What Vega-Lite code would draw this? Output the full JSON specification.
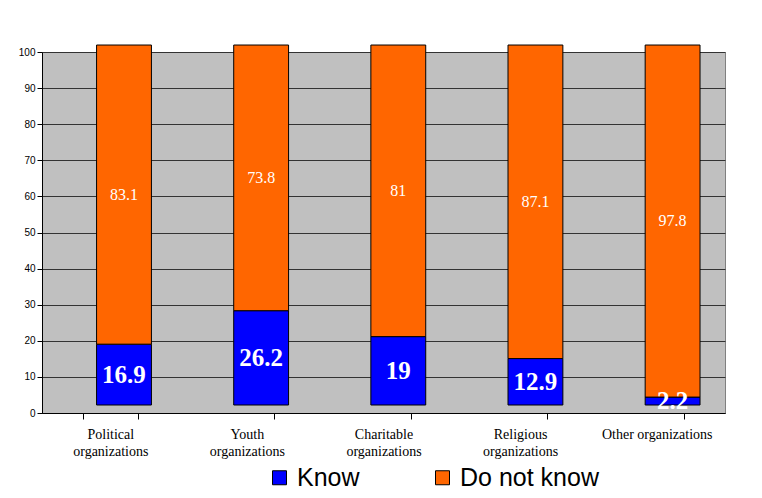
{
  "$schema": "https://vega.github.io/schema/vega-lite/v6.json",
  "width": 683,
  "height": 361,
  "autosize": {"type": "none"},
  "padding": {"left": 42, "top": 52, "right": 37, "bottom": 85},
  "background": "white",
  "config": {
    "view": {"fill": "#C0C0C0", "stroke": "#808080", "strokeWidth": 1},
    "font": "Liberation Sans"
  },
  "data": {
    "values": [
      {"org": "Political|organizations", "series": "Know", "value": 16.9, "ord": 1},
      {"org": "Political|organizations", "series": "Do not know", "value": 83.1, "ord": 2},
      {"org": "Youth|organizations", "series": "Know", "value": 26.2, "ord": 1},
      {"org": "Youth|organizations", "series": "Do not know", "value": 73.8, "ord": 2},
      {"org": "Charitable|organizations", "series": "Know", "value": 19, "ord": 1},
      {"org": "Charitable|organizations", "series": "Do not know", "value": 81, "ord": 2},
      {"org": "Religious|organizations", "series": "Know", "value": 12.9, "ord": 1},
      {"org": "Religious|organizations", "series": "Do not know", "value": 87.1, "ord": 2},
      {"org": "Other organizations", "series": "Know", "value": 2.2, "ord": 1},
      {"org": "Other organizations", "series": "Do not know", "value": 97.8, "ord": 2}
    ]
  },
  "layer": [
    {
      "mark": {"type": "bar", "opacity": 0},
      "encoding": {
        "x": {
          "field": "org",
          "type": "nominal",
          "sort": null,
          "scale": {"paddingInner": 0.6, "paddingOuter": 0.3},
          "axis": {
            "title": null,
            "labelAngle": 0,
            "labelExpr": "datum.value ? split(datum.value, '|') : ''",
            "labelFont": "Liberation Serif",
            "labelFontSize": 14,
            "labelColor": "#000000",
            "labelLineHeight": 17,
            "labelPadding": 8,
            "tickBand": "extent",
            "tickSize": 6,
            "tickColor": "#000000",
            "domainColor": "#000000",
            "grid": false
          }
        },
        "y": {
          "field": "value",
          "type": "quantitative",
          "scale": {"domain": [0, 100], "nice": false},
          "axis": {
            "title": null,
            "values": [0, 10, 20, 30, 40, 50, 60, 70, 80, 90, 100],
            "labelFontSize": 10,
            "labelColor": "#000000",
            "tickSize": 5,
            "tickColor": "#000000",
            "domainColor": "#000000",
            "grid": true,
            "gridColor": "#333333",
            "gridWidth": 1
          }
        }
      }
    },
    {
      "transform": [
        {"stack": "value", "groupby": ["org"], "sort": [{"field": "ord"}], "as": ["v0", "v1"]},
        {"calculate": "(datum.v0 + datum.v1) / 2", "as": "mid"}
      ],
      "encoding": {
        "x": {
          "field": "org",
          "type": "nominal",
          "sort": null,
          "scale": {"paddingInner": 0.6, "paddingOuter": 0.29, "align": 0.686},
          "axis": null
        }
      },
      "layer": [
        {
          "mark": {"type": "bar", "stroke": "#000000", "strokeWidth": 1},
          "encoding": {
            "y": {
              "field": "v0",
              "type": "quantitative",
              "scale": {"domain": [-2.22, 98.06], "nice": false, "zero": false},
              "axis": null
            },
            "y2": {"field": "v1"},
            "color": {
              "field": "series",
              "type": "nominal",
              "scale": {"domain": ["Know", "Do not know"], "range": ["#0000FF", "#FF6600"]},
              "legend": {
                "title": null,
                "orient": "none",
                "direction": "horizontal",
                "legendX": 225,
                "legendY": 413,
                "symbolType": "square",
                "symbolSize": 196,
                "symbolStrokeColor": "#000000",
                "symbolStrokeWidth": 1,
                "symbolOpacity": 1,
                "labelFontSize": 25,
                "labelFont": "Liberation Sans",
                "labelColor": "#000000",
                "labelOffset": 5,
                "columnPadding": 70
              }
            }
          }
        },
        {
          "transform": [{"filter": "datum.series === 'Know'"}],
          "mark": {"type": "text", "font": "Liberation Serif", "fontSize": 25, "fontWeight": "bold", "color": "white", "baseline": "middle"},
          "encoding": {
            "y": {"field": "mid", "type": "quantitative", "axis": null},
            "text": {"field": "value", "type": "quantitative"}
          }
        },
        {
          "transform": [{"filter": "datum.series === 'Do not know'"}],
          "mark": {"type": "text", "font": "Liberation Serif", "fontSize": 16, "color": "white", "baseline": "middle"},
          "encoding": {
            "y": {"field": "mid", "type": "quantitative", "axis": null},
            "text": {"field": "value", "type": "quantitative"}
          }
        }
      ]
    }
  ],
  "resolve": {"scale": {"x": "independent", "y": "independent"}}
}
